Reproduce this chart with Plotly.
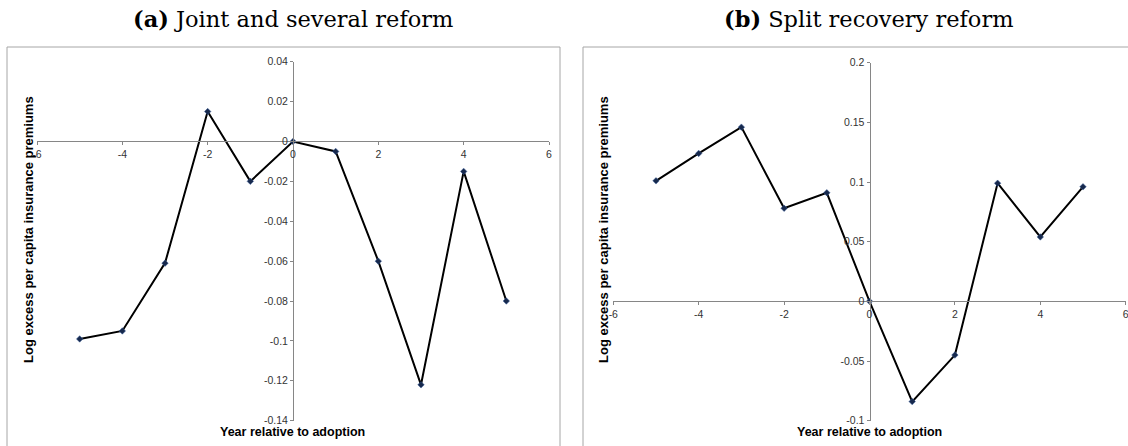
import plotly.graph_objects as go

W, H = 1128, 446

years = [-5, -4, -3, -2, -1, 0, 1, 2, 3, 4, 5]
joint_several = [-0.099, -0.095, -0.061, 0.015, -0.020, 0.0, -0.005, -0.060, -0.122, -0.015, -0.080]
split_recovery = [0.101, 0.124, 0.146, 0.078, 0.091, 0.0, -0.084, -0.045, 0.099, 0.054, 0.096]

x_ticks = [-6, -4, -2, 0, 2, 4, 6]
x_tick_labels = ["-6", "-4", "-2", "0", "2", "4", "6"]
y_ticks_a = [0.04, 0.02, 0, -0.02, -0.04, -0.06, -0.08, -0.1, -0.12, -0.14]
y_tick_labels_a = ["0.04", "0.02", "0", "-0.02", "-0.04", "-0.06", "-0.08", "-0.1", "-0.12", "-0.14"]
y_ticks_b = [0.2, 0.15, 0.1, 0.05, 0, -0.05, -0.1]
y_tick_labels_b = ["0.2", "0.15", "0.1", "0.05", "0", "-0.05", "-0.1"]
titles = ["<b>(a)</b> Joint and several reform", "<b>(b)</b> Split recovery reform"]
x_title = "Year relative to adoption"
y_title = "Log excess per capita insurance premiums"


def px(x):
    return x / W


def py(y):
    return 1 - y / H


fig = go.Figure()

line = dict(color="black", width=2)
marker = dict(symbol="diamond", size=5, color="#17294d", line=dict(color="#3b5f9a", width=0.5))

fig.add_trace(go.Scatter(x=years, y=joint_several, mode="lines+markers", line=line, marker=marker,
                         xaxis="x", yaxis="y", showlegend=False, hoverinfo="skip"))
fig.add_trace(go.Scatter(x=years, y=split_recovery, mode="lines+markers", line=line, marker=marker,
                         xaxis="x2", yaxis="y2", showlegend=False, hoverinfo="skip"))

tickfont = dict(family="Liberation Sans, Arial, sans-serif", size=10.5, color="#333333")
axis_common = dict(showgrid=False, zeroline=False, showline=True, linecolor="#868686", linewidth=1,
                   ticks="outside", ticklen=3, tickcolor="#868686", tickfont=tickfont,
                   automargin=False, fixedrange=True, ticklabeloverflow="allow")

xa_dom = [px(37), px(549)]
ya_dom = [py(420.7), py(61.7)]
xb_dom = [px(613.3), px(1125.7)]
yb_dom = [py(420.7), py(62.7)]

ra = [-0.14, 0.04]
rb = [-0.1, 0.2]


def zero_pos(dom, rng):
    return dom[0] + (0 - rng[0]) / (rng[1] - rng[0]) * (dom[1] - dom[0])


fig.update_layout(
    width=W, height=H,
    margin=dict(l=0, r=0, t=0, b=0, pad=0),
    paper_bgcolor="white", plot_bgcolor="rgba(0,0,0,0)",
    xaxis=dict(domain=xa_dom, range=[-6, 6], tickvals=x_ticks, ticktext=x_tick_labels, anchor="free",
               position=zero_pos(ya_dom, ra), **axis_common),
    yaxis=dict(domain=ya_dom, range=ra, tickvals=y_ticks_a, ticktext=y_tick_labels_a, anchor="free",
               position=zero_pos(xa_dom, [-6, 6]), **axis_common),
    xaxis2=dict(domain=xb_dom, range=[-6, 6], tickvals=x_ticks, ticktext=x_tick_labels, anchor="free",
                position=zero_pos(yb_dom, rb), **axis_common),
    yaxis2=dict(domain=yb_dom, range=rb, tickvals=y_ticks_b, ticktext=y_tick_labels_b, anchor="free",
                position=zero_pos(xb_dom, [-6, 6]), **axis_common),
)

border = dict(color="#a6a6a6", width=1)
fig.add_shape(type="rect", xref="paper", yref="paper", x0=px(7), x1=px(560), y0=py(460), y1=py(47), line=border)
fig.add_shape(type="rect", xref="paper", yref="paper", x0=px(583), x1=px(1140), y0=py(460), y1=py(47), line=border)

title_font = dict(family="DejaVu Serif, Liberation Serif, serif", size=22.5, color="black")
for t, cx in zip(titles, [293, 869]):
    fig.add_annotation(text=t, xref="paper", yref="paper", x=px(cx), y=py(19), xanchor="center",
                       yanchor="middle", showarrow=False, font=title_font)

for cx in [292, 869]:
    fig.add_annotation(text="<b>" + x_title + "</b>", xref="paper", yref="paper", x=px(cx), y=py(432),
                       xanchor="center", yanchor="middle", showarrow=False,
                       font=dict(family="Liberation Sans, Arial, sans-serif", size=12.5, color="black"))
for cx in [28, 603]:
    fig.add_annotation(text="<b>" + y_title + "</b>", xref="paper", yref="paper", x=px(cx), y=py(230),
                       xanchor="center", yanchor="middle", showarrow=False, textangle=-90,
                       font=dict(family="Liberation Sans, Arial, sans-serif", size=13, color="black"))

fig.write_html("out.html", config={"displayModeBar": False, "staticPlot": True},
               post_script="document.body.style.margin='0';document.documentElement.style.overflow='hidden';document.body.style.overflow='hidden';")
